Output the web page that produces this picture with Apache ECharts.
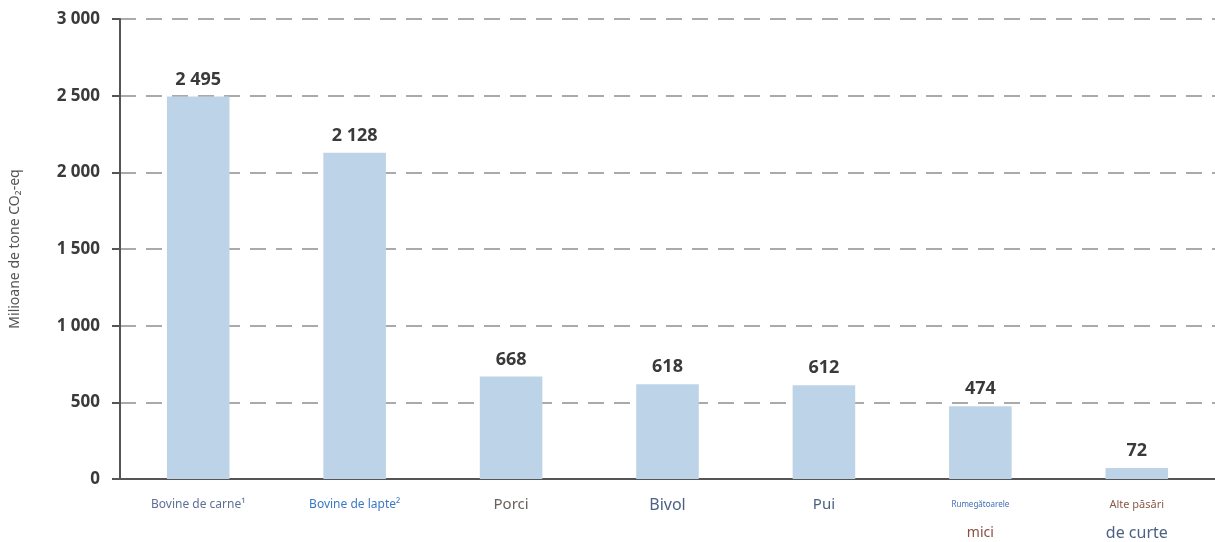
<!DOCTYPE html>
<html>
<head>
<meta charset="utf-8">
<script src="https://cdn.jsdelivr.net/npm/echarts@6/dist/echarts.min.js"></script>
<style>
  html, body { margin: 0; padding: 0; background: #fff; }
  #grafic { width: 1215px; height: 542px; }
</style>
</head>
<body>
<div id="grafic"></div>
<script>
// Emisii pe specii (milioane de tone CO2-eq)
var categorii = ['Bovine de carne', 'Bovine de lapte', 'Porci', 'Bivol', 'Pui', 'Rumegătoarele mici', 'Alte păsări de curte'];
var valori = [2495, 2128, 668, 618, 612, 474, 72];
var etichetaAxa = 'Milioane de tone CO₂-eq';

function mii(v) {
  return String(v).replace(/\B(?=(\d{3})+(?!\d))/g, ' ');
}

// fiecare eticheta de categorie are alt stil in original
var formatEtichete = {
  'Bovine de carne': '{carne|Bovine de carne¹}',
  'Bovine de lapte': '{lapte|Bovine de lapte²}',
  'Porci': '{porci|Porci}',
  'Bivol': '{bivol|Bivol}',
  'Pui': '{pui|Pui}',
  'Rumegătoarele mici': '{rum|Rumegătoarele}\n{mici|mici}',
  'Alte păsări de curte': '{alte|Alte păsări}\n{curte|de curte}'
};

var grafic = echarts.init(document.getElementById('grafic'));
var optiuni = {
  animation: false,
  grid: { left: 118, right: 0, top: 19, bottom: 63 },
  xAxis: {
    type: 'category',
    data: categorii,
    axisLine: { lineStyle: { color: '#555', width: 2 } },
    axisTick: { show: false },
    axisLabel: {
      interval: 0,
      margin: 12,
      formatter: function (v) { return formatEtichete[v]; },
      rich: {
        carne: { fontSize: 12, color: '#5f6f96', lineHeight: 28, fontFamily: 'Noto Sans' },
        lapte: { fontSize: 12, color: '#3b78c4', lineHeight: 28, fontFamily: 'Noto Sans' },
        porci: { fontSize: 15, color: '#6b625e', lineHeight: 28, fontFamily: 'Noto Sans' },
        bivol: { fontSize: 16, color: '#4c6284', lineHeight: 28, fontFamily: 'Noto Sans' },
        pui: { fontSize: 15, color: '#4c6284', lineHeight: 28, fontFamily: 'Noto Sans' },
        rum: { fontSize: 8, color: '#3d6fb3', lineHeight: 28, fontFamily: 'Noto Sans' },
        mici: { fontSize: 14, color: '#8a4f42', lineHeight: 28, fontFamily: 'Noto Sans' },
        alte: { fontSize: 11, color: '#8a5a4a', lineHeight: 28, fontFamily: 'Noto Sans' },
        curte: { fontSize: 16, color: '#4c6284', lineHeight: 28, fontFamily: 'Noto Sans' }
      }
    }
  },
  yAxis: {
    type: 'value',
    min: 0,
    max: 3000,
    interval: 500,
    name: etichetaAxa,
    nameLocation: 'middle',
    nameGap: 98,
    nameTextStyle: { fontSize: 14, color: '#555', fontFamily: 'Noto Sans' },
    axisLine: { show: true, lineStyle: { color: '#555', width: 2 } },
    axisTick: { show: true, length: 8, lineStyle: { color: '#555', width: 2 } },
    axisLabel: {
      margin: 20,
      fontSize: 17,
      fontWeight: 'bold',
      color: '#3a3a3a',
      fontFamily: 'Open Sans',
      formatter: mii
    },
    splitLine: { lineStyle: { color: '#aaa', width: 2, type: [16, 10] } }
  },
  series: [{
    type: 'bar',
    data: valori,
    barWidth: '40%',
    itemStyle: { color: '#bdd3e7' },
    label: {
      show: true,
      position: 'top',
      distance: 8,
      fontSize: 18,
      fontWeight: 'bold',
      color: '#3a3a3a',
      fontFamily: 'Open Sans',
      formatter: function (p) { return mii(p.value); }
    }
  }]
};
grafic.setOption(optiuni);
</script>
</body>
</html>
